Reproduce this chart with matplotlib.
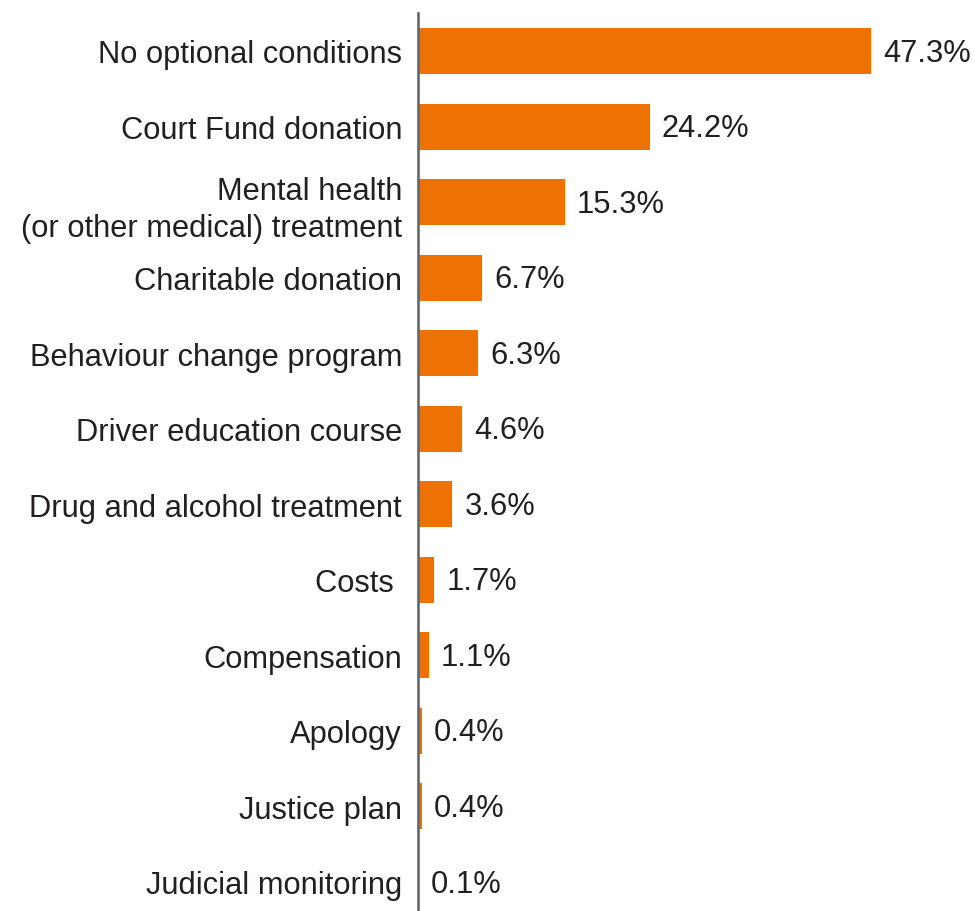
import matplotlib
matplotlib.use("Agg")
import matplotlib.pyplot as plt

categories = [
    "No optional conditions",
    "Court Fund donation",
    "Mental health\n(or other medical) treatment",
    "Charitable donation",
    "Behaviour change program",
    "Driver education course",
    "Drug and alcohol treatment",
    "Costs ",
    "Compensation",
    "Apology",
    "Justice plan",
    "Judicial monitoring",
]
values = [47.3, 24.2, 15.3, 6.7, 6.3, 4.6, 3.6, 1.7, 1.1, 0.4, 0.4, 0.1]
value_labels = ["47.3%", "24.2%", "15.3%", "6.7%", "6.3%", "4.6%", "3.6%",
                "1.7%", "1.1%", "0.4%", "0.4%", "0.1%"]

bar_color = "#EE7203"
text_color = "#231F20"
axis_color = "#67676B"
font = "Liberation Sans"
fsize = 22.2

fig = plt.figure(figsize=(9.75, 9.12), dpi=100)
W, H = 975, 912
left_px, top_px = 418, 14
ax = fig.add_axes([left_px / W, 0, 1 - left_px / W, (H - top_px) / H])

ypos = list(range(len(categories)))
ax.barh(ypos, values, height=0.61, color=bar_color, zorder=2)

px_per_unit = 9.58
ax.set_xlim(0, (W - left_px) / px_per_unit)
ax.set_ylim(11.384, -0.503)

for s in ["top", "right", "bottom"]:
    ax.spines[s].set_visible(False)
ax.spines["left"].set_color(axis_color)
ax.spines["left"].set_linewidth(1.9)
ax.spines["left"].set_zorder(3)

ax.set_xticks([])
ax.set_yticks(ypos)
ax.set_yticklabels(categories, fontsize=fsize, color=text_color, family=font,
                   linespacing=1.32)
ax.tick_params(axis="y", length=0, pad=11.5)

for y, v, lab in zip(ypos, values, value_labels):
    ax.text(v + 1.25, y + 0.02, lab, va="center", ha="left", fontsize=fsize,
            color=text_color, family=font)

fig.savefig("out.png", dpi=100)
